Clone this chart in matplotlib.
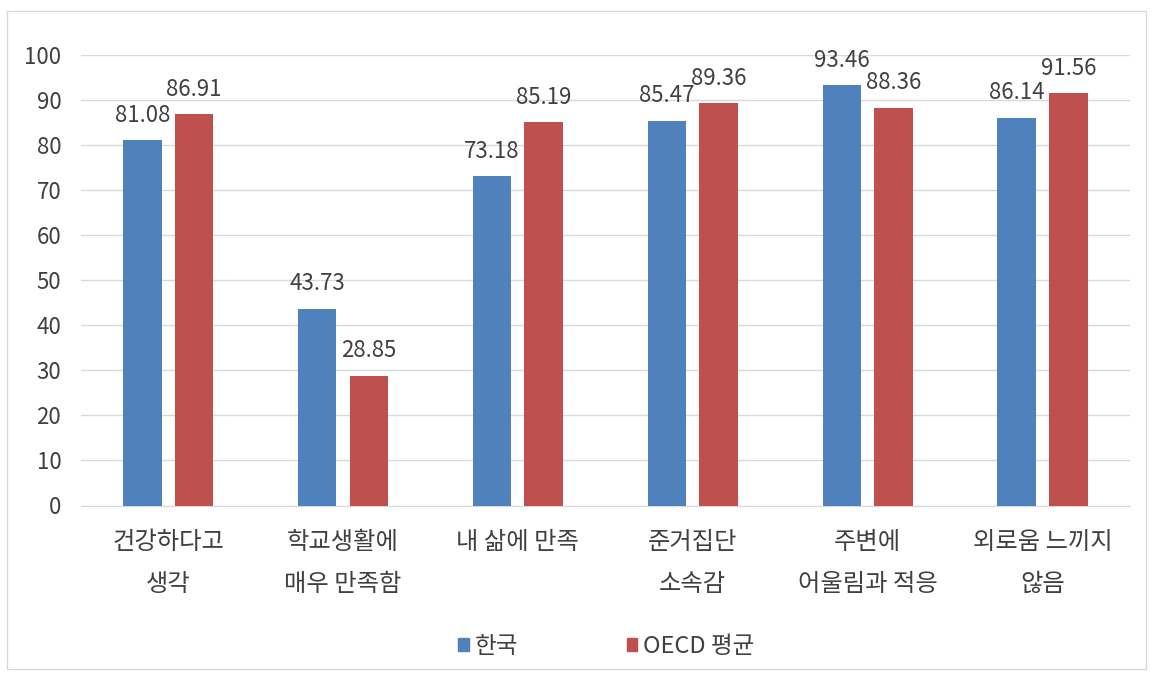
import matplotlib.pyplot as plt
import matplotlib
from matplotlib.patches import Rectangle
import numpy as np

matplotlib.rcParams['font.family'] = ['Noto Sans CJK KR', 'DejaVu Sans']

categories = ['건강하다고\n생각', '학교생활에\n매우 만족함', '내 삶에 만족', '준거집단\n소속감', '주변에\n어울림과 적응', '외로움 느끼지\n않음']
korea = [81.08, 43.73, 73.18, 85.47, 93.46, 86.14]
oecd = [86.91, 28.85, 85.19, 89.36, 88.36, 91.56]
series_names = ['한국', 'OECD 평균']

blue = '#4f81bd'
red = '#c0504d'
txt = '#404040'

fig = plt.figure(figsize=(11.53, 6.74), dpi=100)
ax = fig.add_axes([0.07, 0.25, 0.91, 0.668])

x = np.arange(len(categories))
w = 0.22
gap = 0.075
b1 = ax.bar(x - (w + gap) / 2, korea, w, color=blue, zorder=3)
b2 = ax.bar(x + (w + gap) / 2, oecd, w, color=red, zorder=3)

for bars, vals in ((b1, korea), (b2, oecd)):
    for r, v in zip(bars, vals):
        ax.annotate(f'{v:.2f}', (r.get_x() + r.get_width() / 2, v), xytext=(0, 9.5),
                    textcoords='offset points', ha='center', va='bottom',
                    fontsize=16, color=txt, zorder=4)

ax.set_ylim(0, 100)
ax.set_xlim(-0.5, len(categories) - 0.5)
ax.set_yticks(range(0, 101, 10))
ax.yaxis.grid(True, color='#d9d9d9', linewidth=1, zorder=0)
ax.set_xticks(x)
ax.set_xticklabels(categories, fontsize=17.5, color=txt, linespacing=1.8)
ax.tick_params(axis='y', labelsize=16, labelcolor=txt, length=0, pad=14)
ax.tick_params(axis='x', length=0, pad=17)
for s in ['top', 'right', 'left']:
    ax.spines[s].set_visible(False)
ax.spines['bottom'].set_color('#d9d9d9')

handles = [Rectangle((0, 0), 1, 1, color=blue), Rectangle((0, 0), 1, 1, color=red)]
fig.legend(handles, series_names, loc='center', bbox_to_anchor=(0.526, 0.041), ncol=2,
           frameon=False, fontsize=17, handlelength=0.45, handleheight=0.45,
           handletextpad=0.25, columnspacing=4.6, labelcolor=txt)

fig.patches.append(Rectangle((0.006, 0.008), 0.988, 0.976, transform=fig.transFigure,
                             fill=False, edgecolor='#d9d9d9', linewidth=1))

fig.savefig('out.png', dpi=100)
